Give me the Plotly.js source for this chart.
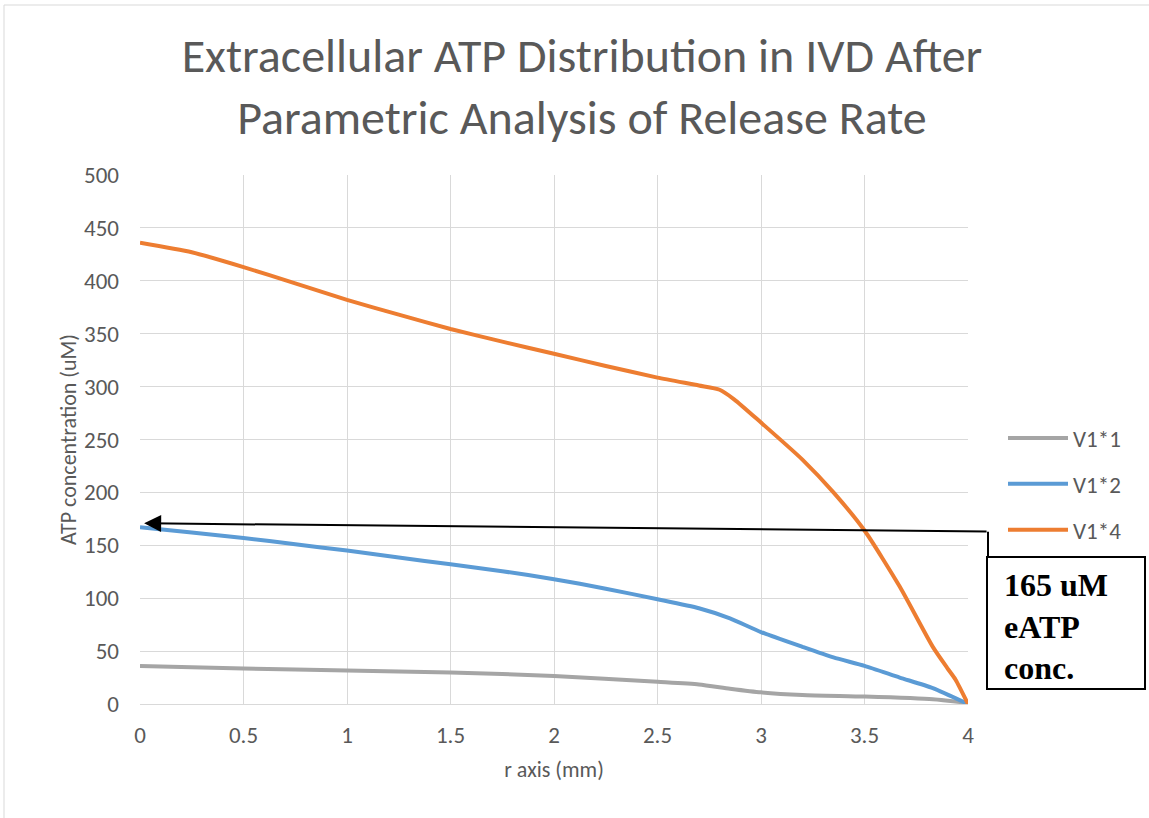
<!DOCTYPE html>
<html>
<head>
<meta charset="utf-8">
<script src="https://cdn.plot.ly/plotly-3.0.1.min.js"></script>
<style>html,body{margin:0;padding:0;background:#fff;}#chart{width:1149px;height:818px;}</style>
</head>
<body>
<div id="chart"></div>
<script>
// Data
const r1 = [0, 0.5, 1, 1.5, 2, 2.5, 2.7, 2.85, 3, 3.2, 3.5, 3.83, 4];
const v1x1 = [36, 33.5, 31.7, 29.8, 26.5, 21, 18.5, 14.5, 11, 8.5, 7, 4.5, 1];

const r2 = [0, 0.25, 0.5, 0.75, 1, 1.25, 1.5, 1.75, 2, 2.25, 2.5, 2.7, 2.85, 3, 3.2, 3.35, 3.5, 3.67, 3.83, 4];
const v1x2 = [167, 162, 157, 151, 145, 138.5, 132, 125.5, 118, 109, 99, 90.5, 81, 68, 54, 44, 36, 25, 15, 0];

const r4 = [0, 0.25, 0.5, 0.75, 1, 1.25, 1.5, 1.75, 2, 2.25, 2.5, 2.7, 2.8, 2.87, 3, 3.2, 3.35, 3.5, 3.67, 3.83, 3.9, 3.94, 4];
const v1x4 = [436, 427, 413, 397.5, 382, 368, 354.5, 342.5, 331, 319.5, 308.5, 301, 297, 288, 266, 231, 200, 164, 111, 54, 34, 23, 0];

const seriesNames = ['V1*1', 'V1*2', 'V1*4'];
const seriesColors = ['#A5A5A5', '#5B9BD5', '#ED7D31'];

const xTicks = [0, 0.5, 1, 1.5, 2, 2.5, 3, 3.5, 4];
const yTicks = [0, 50, 100, 150, 200, 250, 300, 350, 400, 450, 500];

const arrowTip = {x: 0.02, y: 170.8};
const arrowTail = {x: 4.097, y: 163};
const noteText = '165 uM<br>eATP<br>conc.';

const FONT = 'Carlito, Calibri, "Liberation Sans Narrow", "Liberation Sans", sans-serif';
const TXT = '#595959';

const xs = [r1, r2, r4];
const ys = [v1x1, v1x2, v1x4];
const traces = seriesNames.map((n, i) => ({
  x: xs[i], y: ys[i], name: n, type: 'scatter', mode: 'lines',
  legendgroup: 'g' + i,
  line: {color: seriesColors[i], width: 4, shape: 'spline', smoothing: 0.6},
  hoverinfo: 'skip'
}));

// paper coords helpers (plot area: x 140..968 px, y 175..704 px)
const L = 140, R = 968, T = 175, B = 704;
const px = v => (v - L) / (R - L);
const py = v => (B - v) / (B - T);

const layout = {
  width: 1149, height: 818,
  margin: {l: L, r: 1149 - R, t: T, b: 818 - B},
  paper_bgcolor: '#ffffff', plot_bgcolor: '#ffffff',
  font: {family: FONT, color: TXT, size: 23},
  title: {
    text: 'Extracellular ATP Distribution in IVD After<br>Parametric Analysis of Release Rate',
    font: {family: FONT, size: 48, color: TXT},
    x: 582 / 1149, xref: 'container', xanchor: 'center',
    y: 1 - 72 / 818, yref: 'container', yanchor: 'middle'
  },
  xaxis: {
    range: [0, 4], tickvals: xTicks, ticktext: xTicks.map(String),
    showgrid: true, gridcolor: '#d9d9d9', gridwidth: 1,
    zeroline: false, showline: true, linecolor: '#d9d9d9', linewidth: 1,
    ticks: '', ticklabelstandoff: 10,
    tickfont: {family: FONT, size: 23, color: TXT},
    title: {text: 'r axis (mm)', font: {family: FONT, size: 22, color: TXT}, standoff: 14},
    automargin: false, fixedrange: true
  },
  yaxis: {
    range: [0, 500], tickvals: yTicks, ticktext: yTicks.map(String),
    showgrid: true, gridcolor: '#d9d9d9', gridwidth: 1,
    zeroline: false, showline: false,
    ticks: '', ticklabelstandoff: 20,
    tickfont: {family: FONT, size: 23, color: TXT},
    title: {text: 'ATP concentration (uM)', font: {family: FONT, size: 22, color: TXT}, standoff: 1},
    automargin: false, fixedrange: true
  },
  showlegend: true,
  legend: {
    x: px(1003), xanchor: 'left', y: py(484), yanchor: 'middle',
    font: {family: FONT, size: 23, color: TXT},
    bgcolor: 'rgba(0,0,0,0)', borderwidth: 0,
    tracegroupgap: 13, itemwidth: 60, traceorder: 'grouped'
  },
  shapes: [
    // outer chart border
    {type: 'rect', xref: 'paper', yref: 'paper', x0: px(4), x1: px(1170), y0: py(840), y1: py(5),
     line: {color: '#d9d9d9', width: 1}, fillcolor: 'rgba(0,0,0,0)', layer: 'below'},
    // note box
    {type: 'rect', xref: 'paper', yref: 'paper', x0: px(987), x1: px(1145), y0: py(689), y1: py(557),
     line: {color: '#000000', width: 2}, fillcolor: '#ffffff'},
    // connector from box to arrow
    {type: 'line', xref: 'paper', yref: 'paper', x0: px(988), x1: px(988), y0: py(557), y1: py(531.7),
     line: {color: '#000000', width: 2}}
  ],
  annotations: [
    {x: arrowTip.x, y: arrowTip.y, xref: 'x', yref: 'y', ax: arrowTail.x, ay: arrowTail.y,
     axref: 'x', ayref: 'y', text: '', showarrow: true, arrowhead: 2, arrowsize: 1.7,
     arrowwidth: 2, arrowcolor: '#000000'},
    {x: px(1002), y: py(626), xref: 'paper', yref: 'paper', xanchor: 'left', yanchor: 'middle',
     text: '<b>' + noteText + '</b>', showarrow: false, align: 'left',
     font: {family: '"Liberation Serif", "Times New Roman", serif', size: 32, color: '#000000'}}
  ]
};

Plotly.newPlot('chart', traces, layout, {displayModeBar: false, staticPlot: true});
</script>
</body>
</html>
